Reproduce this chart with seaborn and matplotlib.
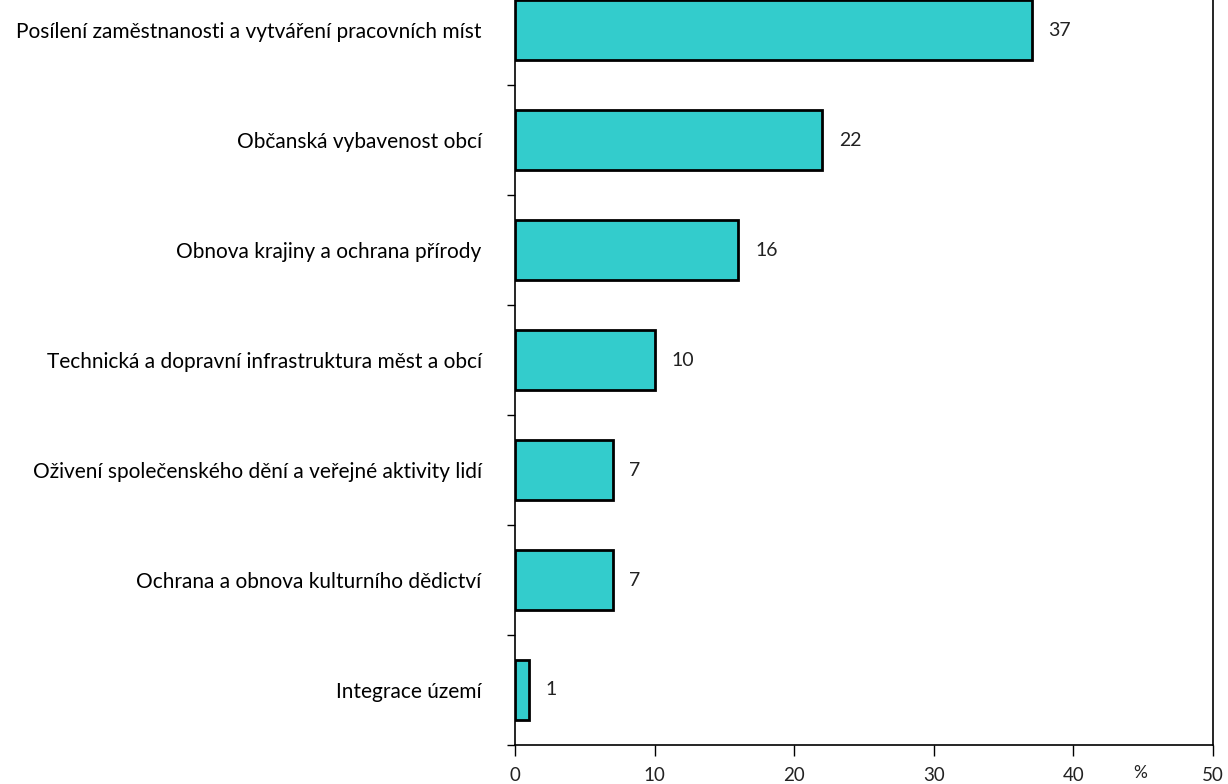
import matplotlib
matplotlib.use("Agg")
import matplotlib.pyplot as plt
import seaborn as sns
import pandas as pd

categories = [
    "Posílení zaměstnanosti a vytváření pracovních míst",
    "Občanská vybavenost obcí",
    "Obnova krajiny a ochrana přírody",
    "Technická a dopravní infrastruktura měst a obcí",
    "Oživení společenského dění a veřejné aktivity lidí",
    "Ochrana a obnova kulturního dědictví",
    "Integrace území",
]
values = [37, 22, 16, 10, 7, 7, 1]
x_ticks = [0, 10, 20, 30, 40, 50]

sns.set_theme(style="white")
plt.rcParams["font.family"] = ["Lato", "DejaVu Sans"]

df = pd.DataFrame({"cat": categories, "val": values})

fig = plt.figure(figsize=(12.28, 7.84), dpi=100)
ax = fig.add_axes([515 / 1228, 39 / 784, (1213 - 515) / 1228, 770 / 784])

sns.barplot(data=df, x="val", y="cat", orient="h", color="#33CCCC",
            saturation=1, edgecolor="black", linewidth=2, width=0.55, ax=ax)

ax.set_xlim(0, 50)
ax.set_ylim(len(categories) - 0.5, -0.5)
ax.set_xticks(x_ticks)
ax.set_xticklabels([str(t) for t in x_ticks], fontsize=13.5, color="#222222")
ax.set_xlabel("")
ax.set_ylabel("")

ax.set_yticks(range(len(categories)))
ax.set_yticklabels(categories, fontsize=15, color="black")
ax.tick_params(axis="y", length=0, pad=24)
ax.set_yticks([i + 0.5 for i in range(len(categories))], minor=True)
ax.tick_params(axis="y", which="minor", length=6, width=1, color="black", direction="out", left=True)
ax.tick_params(axis="x", length=8, width=1, color="black", direction="out", bottom=True, pad=8)

for s in ["left", "bottom", "right"]:
    ax.spines[s].set_visible(True)
    ax.spines[s].set_color("black")
    ax.spines[s].set_linewidth(1.2)
ax.spines["top"].set_visible(False)

for i, v in enumerate(values):
    ax.text(v + 1.2, i, str(v), va="center", ha="left", fontsize=14, color="#222222")

ax.text(44.8, -0.036, "%", transform=ax.get_xaxis_transform(), ha="center", va="center",
        fontsize=12.5, color="#222222")

fig.savefig("out.png", dpi=100)
